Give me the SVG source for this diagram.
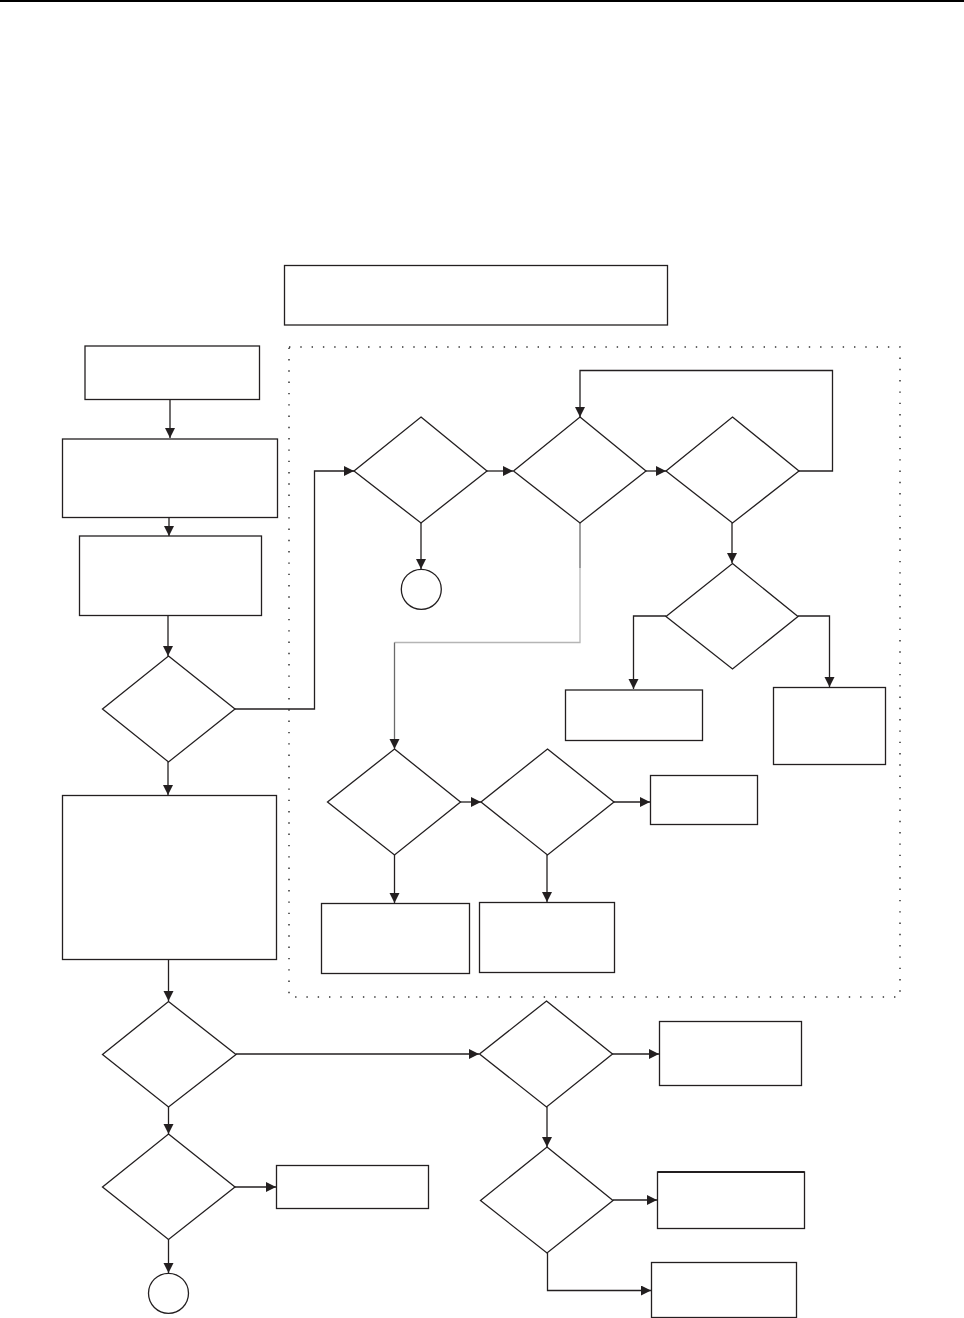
<svg xmlns="http://www.w3.org/2000/svg" width="964" height="1318" viewBox="0 0 964 1318">
<style>
.n{fill:#fff;stroke:#231f20;stroke-width:1.3}
.c{fill:none;stroke:#231f20;stroke-width:1.3}
.g1{fill:none;stroke:#b5b5b5;stroke-width:1.3}
.g2{fill:none;stroke:#6a6a6a;stroke-width:1.3}
.dot{fill:none;stroke:#333;stroke-width:1.5;stroke-dasharray:1.4 9.9}
</style>
<defs>
<marker id="a" markerUnits="userSpaceOnUse" markerWidth="11" markerHeight="11" refX="10" refY="5" orient="auto">
<path d="M0,0 L10,5 L0,10 z" fill="#231f20"/>
</marker>
</defs>
<rect x="0" y="0" width="964" height="2" fill="#000"/>
<rect class="dot" x="289" y="347" width="611" height="650"/>
<g id="connectors">
<path class="c" d="M170,399 V438" marker-end="url(#a)"/>
<path class="c" d="M169,517 V536" marker-end="url(#a)"/>
<path class="c" d="M168,615 V656" marker-end="url(#a)"/>
<path class="c" d="M235,709 H314.5 V471 H354" marker-end="url(#a)"/>
<path class="c" d="M168,762 V795" marker-end="url(#a)"/>
<path class="c" d="M421,523 V569" marker-end="url(#a)"/>
<path class="c" d="M487,471 H513" marker-end="url(#a)"/>
<path class="c" d="M646,471 H666" marker-end="url(#a)"/>
<path class="c" d="M799,471 H832.5 V370.5 H580 V417" marker-end="url(#a)"/>
<path class="c" d="M732,523 V563" marker-end="url(#a)"/>
<path class="c" d="M666,616 H633.5 V689" marker-end="url(#a)"/>
<path class="c" d="M798,616 H829.5 V687" marker-end="url(#a)"/>
<path class="g2" d="M580,523 V568"/>
<path class="g1" d="M580,568 V642.5 H394.5"/>
<path class="g2" d="M394.5,642.5 V749" marker-end="url(#a)"/>
<path class="c" d="M460,802 H481" marker-end="url(#a)"/>
<path class="c" d="M614,802 H650" marker-end="url(#a)"/>
<path class="c" d="M394.5,855 V903" marker-end="url(#a)"/>
<path class="c" d="M547,855 V902" marker-end="url(#a)"/>
<path class="c" d="M168.5,959 V1001" marker-end="url(#a)"/>
<path class="c" d="M236,1054 H479" marker-end="url(#a)"/>
<path class="c" d="M612,1054 H659" marker-end="url(#a)"/>
<path class="c" d="M547,1107 V1147" marker-end="url(#a)"/>
<path class="c" d="M613,1200 H657" marker-end="url(#a)"/>
<path class="c" d="M547.5,1253 V1290.5 H651" marker-end="url(#a)"/>
<path class="c" d="M168.5,1107 V1134" marker-end="url(#a)"/>
<path class="c" d="M235,1187 H276" marker-end="url(#a)"/>
<path class="c" d="M168.5,1239 V1273" marker-end="url(#a)"/>
</g>
<g id="n-top"><rect class="n" x="284.5" y="265.5" width="383" height="59.5"/></g>
<g id="n-b1"><rect class="n" x="85" y="346" width="174.5" height="53.5"/></g>
<g id="n-b2"><rect class="n" x="62.5" y="439" width="215" height="78.5"/></g>
<g id="n-b3"><rect class="n" x="79.5" y="536" width="182" height="79.5"/></g>
<g id="n-d1"><polygon class="n" points="168.5,656 235,709 168.5,762 102.5,709"/></g>
<g id="n-bL"><rect class="n" x="62.5" y="795.5" width="214" height="164"/></g>
<g id="n-dA"><polygon class="n" points="421,417 487,471 421,523 354,471"/></g>
<g id="n-cA"><circle class="n" cx="421.3" cy="589.3" r="20"/></g>
<g id="n-dB"><polygon class="n" points="580,417 646,471 580,523 513.5,471"/></g>
<g id="n-dC"><polygon class="n" points="732.5,417 799,471 732.5,523 666,471"/></g>
<g id="n-dD"><polygon class="n" points="732.5,563.5 798,616.5 732.5,669 666,616.5"/></g>
<g id="n-bE"><rect class="n" x="565.5" y="690" width="137" height="50.5"/></g>
<g id="n-bF"><rect class="n" x="773.5" y="687.5" width="112" height="77"/></g>
<g id="n-dG"><polygon class="n" points="394.5,749 460.5,802 394.5,855 327.5,802"/></g>
<g id="n-dH"><polygon class="n" points="547.5,749 614,802 547.5,855 481,802"/></g>
<g id="n-bI"><rect class="n" x="650.5" y="775.5" width="107" height="49"/></g>
<g id="n-bJ"><rect class="n" x="321.5" y="903.5" width="148" height="70"/></g>
<g id="n-bK"><rect class="n" x="479.5" y="902.5" width="135" height="70"/></g>
<g id="n-dM"><polygon class="n" points="168.5,1001.5 236,1054.5 168.5,1107 102.5,1054.5"/></g>
<g id="n-dN"><polygon class="n" points="546.5,1001 612.5,1054 546.5,1107 479.5,1054"/></g>
<g id="n-bO"><rect class="n" x="659.5" y="1021.5" width="142" height="64"/></g>
<g id="n-dP"><polygon class="n" points="547,1147 613,1200.5 547,1253 480.5,1200.5"/></g>
<g id="n-bQ"><rect class="n" x="657.5" y="1172" width="147" height="56.5"/><line x1="657.5" y1="1172" x2="804.5" y2="1172" stroke="#231f20" stroke-width="2.2"/></g>
<g id="n-bR"><rect class="n" x="651.5" y="1262.5" width="145" height="55"/></g>
<g id="n-dS"><polygon class="n" points="168.5,1134 235,1187 168.5,1239.5 102.5,1187"/></g>
<g id="n-bT"><rect class="n" x="276.5" y="1165.5" width="152" height="43"/></g>
<g id="n-cS"><circle class="n" cx="168.5" cy="1293.3" r="20"/></g>
</svg>
